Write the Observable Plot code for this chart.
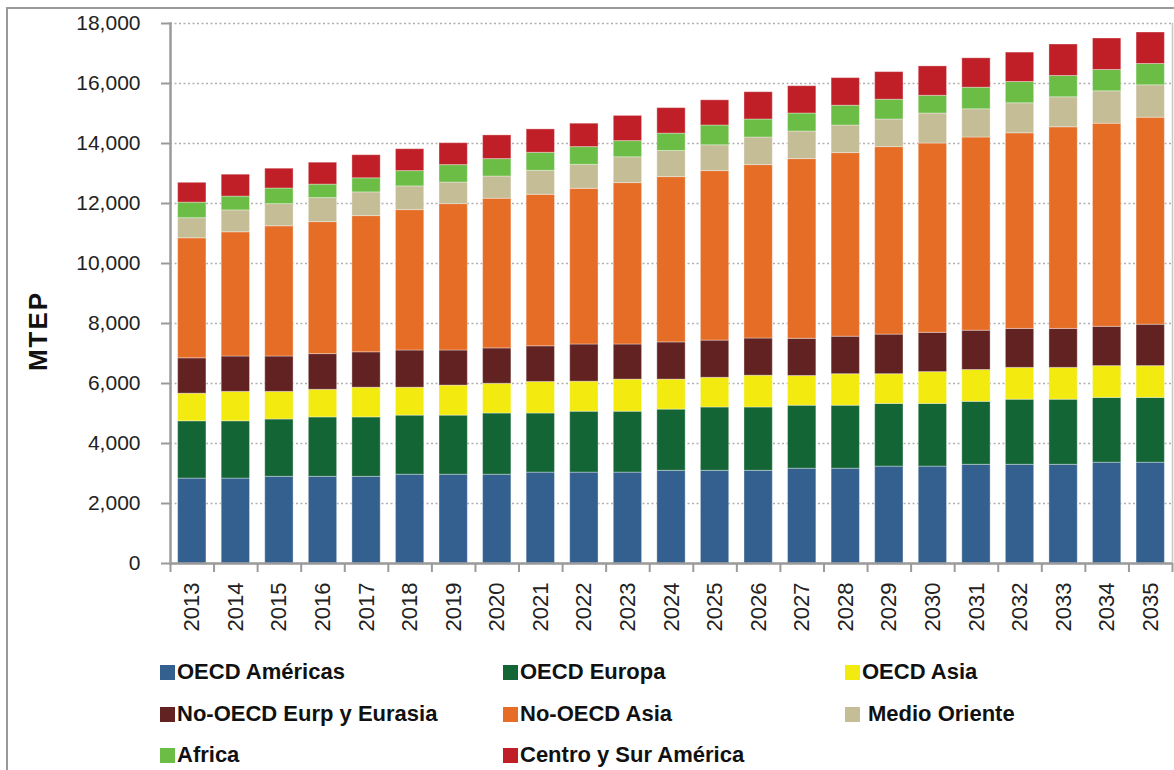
<!DOCTYPE html>
<html>
<head>
<meta charset="utf-8">
<script src="https://cdn.jsdelivr.net/npm/d3@7"></script>
<script src="https://cdn.jsdelivr.net/npm/@observablehq/plot@0.6"></script>
<style>
  html, body { margin: 0; padding: 0; background: #fff; }
  #wrap { position: relative; width: 1174px; height: 770px; overflow: hidden; font-family: "Liberation Sans", Arial, sans-serif; }
  #frame { position: absolute; left: 6px; top: 7px; width: 1200px; height: 800px; border-left: 2px solid #9a9a9a; border-top: 2px solid #9a9a9a; }
  #chart { position: absolute; left: 0; top: 0; }
  #ylab { position: absolute; left: 38px; top: 331px; transform: translate(-50%, -50%) rotate(-90deg); font-weight: bold; font-size: 26px; letter-spacing: 2px; color: #111; white-space: nowrap; }
  .lg { position: absolute; display: flex; align-items: center; font-weight: bold; font-size: 22px; color: #111; white-space: nowrap; transform: translateY(-50%); }
  .sw { width: 15px; height: 15px; margin-right: 2px; flex: none; }
</style>
</head>
<body>
<div id="wrap">
  <div id="frame"></div>
  <div id="chart"></div>
  <div id="ylab">MTEP</div>
  <div id="legend"></div>
</div>
<script>
const years = ["2013","2014","2015","2016","2017","2018","2019","2020","2021","2022","2023","2024","2025","2026","2027","2028","2029","2030","2031","2032","2033","2034","2035"];
const seriesNames = ["OECD Américas","OECD Europa","OECD Asia","No-OECD Eurp y Eurasia","No-OECD Asia","Medio Oriente","Africa","Centro y Sur América"];
const seriesColors = ["#33608F","#146536","#F3EA10","#632222","#E56D25","#C5BD96","#6BBD46","#C01F27"];
const yTicks = [0,2000,4000,6000,8000,10000,12000,14000,16000,18000];

const oecdAmericas = [2830,2830,2890,2890,2890,2960,2960,2960,3030,3030,3030,3090,3090,3090,3160,3160,3230,3230,3290,3290,3290,3360,3360];
const oecdEuropa   = [1910,1910,1910,1980,1980,1970,1970,2040,1970,2030,2030,2040,2110,2110,2100,2100,2090,2090,2100,2170,2170,2160,2160];
const oecdAsia     = [920,980,920,920,990,930,1000,990,1050,1000,1070,1000,990,1060,990,1050,990,1060,1060,1060,1060,1060,1060];
const noOecdEurasia= [1180,1180,1180,1190,1180,1240,1170,1180,1190,1240,1170,1240,1240,1240,1240,1250,1320,1310,1310,1300,1300,1310,1380];
const noOecdAsia   = [4000,4140,4340,4400,4540,4680,4880,4990,5050,5190,5380,5510,5650,5780,5990,6120,6250,6310,6440,6520,6720,6770,6900];
const medioOriente = [670,730,740,800,790,790,720,740,800,800,860,870,860,920,920,920,920,1000,940,1000,1000,1080,1080];
const africa       = [520,460,520,450,470,510,580,580,600,590,540,580,660,600,600,660,660,590,720,710,710,710,710];
const centroSur    = [660,730,660,730,770,730,730,790,780,780,840,850,840,910,910,920,920,980,980,980,1050,1050,1050];

const seriesValues = [oecdAmericas, oecdEuropa, oecdAsia, noOecdEurasia, noOecdAsia, medioOriente, africa, centroSur];

const data = [];
seriesNames.forEach((s, si) => {
  years.forEach((y, yi) => data.push({year: y, series: s, value: seriesValues[si][yi]}));
});

const W = 1174, H = 650;
const mL = 170, mR = 2, mT = 23, mB = 87;
const step = (W - mL - mR) / years.length;
const halfStep = step / 2;

const chart = Plot.plot({
  width: W,
  height: H,
  marginLeft: mL,
  marginRight: mR,
  marginTop: mT,
  marginBottom: mB,
  style: {fontFamily: "'Liberation Sans', Arial, sans-serif", fontSize: "20px", color: "#222", background: "transparent"},
  x: {domain: years, paddingInner: 0.35, paddingOuter: 0.175, round: false, label: null},
  y: {domain: [0, 18000], label: null},
  color: {domain: seriesNames, range: seriesColors},
  marks: [
    Plot.gridY(yTicks, {stroke: "#b0b0b0", strokeOpacity: 1, strokeWidth: 1.5, strokeDasharray: "2,2.5"}),
    Plot.barY(data, {x: "year", y: "value", fill: "series", order: seriesNames, stroke: "#ffffff", strokeOpacity: 0.35, strokeWidth: 1}),
    Plot.frame({anchor: "right", stroke: "#c8c8c8", strokeWidth: 1.5}),
    Plot.frame({anchor: "left", stroke: "#9a9a9a", strokeWidth: 2.5}),
    Plot.ruleY([0], {stroke: "#9a9a9a", strokeWidth: 2.5}),
    Plot.ruleX(years, {x: d => d, dx: -halfStep, y1: 0, y2: -300, stroke: "#9a9a9a", strokeWidth: 2}),
    Plot.ruleX([years[years.length - 1]], {x: d => d, dx: halfStep, y1: 0, y2: -300, stroke: "#9a9a9a", strokeWidth: 2}),
    Plot.axisY(yTicks, {tickFormat: d3.format(","), tickSize: 9, tickPadding: 21, stroke: "#9a9a9a", strokeWidth: 2, fontSize: 21, fill: "#222", label: null}),
    Plot.axisX({tickSize: 0, tickRotate: -90, tickPadding: 19, fontSize: 22, fill: "#222", label: null})
  ]
});
document.getElementById("chart").appendChild(chart);

// legend
const legendCols = [160, 503, 845];
const legendRows = [672, 714, 755];
const legend = document.getElementById("legend");
seriesNames.forEach((s, i) => {
  const item = document.createElement("div");
  item.className = "lg";
  item.style.left = legendCols[i % 3] + "px";
  item.style.top = legendRows[Math.floor(i / 3)] + "px";
  const sw = document.createElement("span");
  sw.className = "sw";
  sw.style.background = seriesColors[i];
  if (s === "Medio Oriente") sw.style.marginRight = "8px";
  const tx = document.createElement("span");
  tx.textContent = s;
  item.appendChild(sw);
  item.appendChild(tx);
  legend.appendChild(item);
});
</script>
</body>
</html>
